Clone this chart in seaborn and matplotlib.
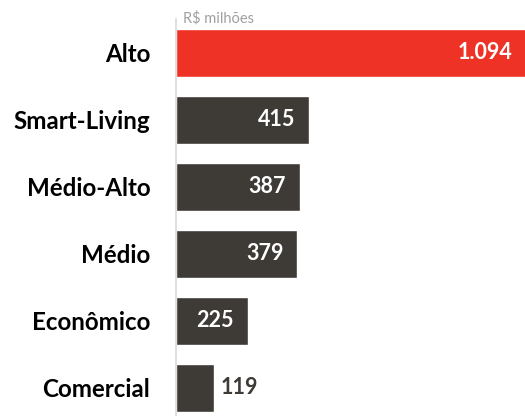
import matplotlib
matplotlib.use("Agg")
import matplotlib.pyplot as plt
import seaborn as sns
import pandas as pd

categories = ["Alto", "Smart-Living", "Médio-Alto", "Médio", "Econômico", "Comercial"]
values = [1094, 415, 387, 379, 225, 119]
value_labels = ["1.094", "415", "387", "379", "225", "119"]
unit_label = "R$ milhões"

RED = "#EE3326"
DARK = "#3E3A36"
colors = [RED] + [DARK] * 5

sns.set_theme(style="white")
plt.rcParams["font.family"] = ["Lato", "DejaVu Sans"]

df = pd.DataFrame({"cat": categories, "val": values})

W, H = 525, 416
fig = plt.figure(figsize=(W / 100, H / 100), dpi=100)
ax = fig.add_axes([176 / W, 0, 349 / W, (H - 19.5) / H])

sns.barplot(data=df, y="cat", x="val", hue="cat", palette=colors, orient="h",
            width=0.71, legend=False, ax=ax, saturation=1)

ax.set_xlim(0, 1090)
ax.set_ylim(5.418, -0.5)
ax.set_xlabel("")
ax.set_ylabel("")
ax.set_xticks([])
for s in ["top", "right", "bottom"]:
    ax.spines[s].set_visible(False)
ax.spines["left"].set_color("#D9D9D9")
ax.spines["left"].set_linewidth(1.2)
ax.tick_params(axis="y", length=0, pad=18.5)
for lbl in ax.get_yticklabels():
    lbl.set_fontweight("bold")
    lbl.set_fontsize(17.4)
    lbl.set_color("#000000")

for i, (v, t) in enumerate(zip(values, value_labels)):
    if v > 200:
        ax.annotate(t, xy=(v, i), xytext=(-14, 0), textcoords="offset pixels",
                    ha="right", va="center", color="white", fontweight="bold",
                    fontsize=15.5, annotation_clip=False)
    else:
        ax.annotate(t, xy=(v, i), xytext=(7, 0), textcoords="offset pixels",
                    ha="left", va="center", color="#3E3A36", fontweight="bold",
                    fontsize=15.5, annotation_clip=False)

fig.text(183 / W, 1 - 18 / H, unit_label, ha="left", va="center", color="#A0A0A0", fontsize=10.5)

fig.savefig("out.png", dpi=100)
